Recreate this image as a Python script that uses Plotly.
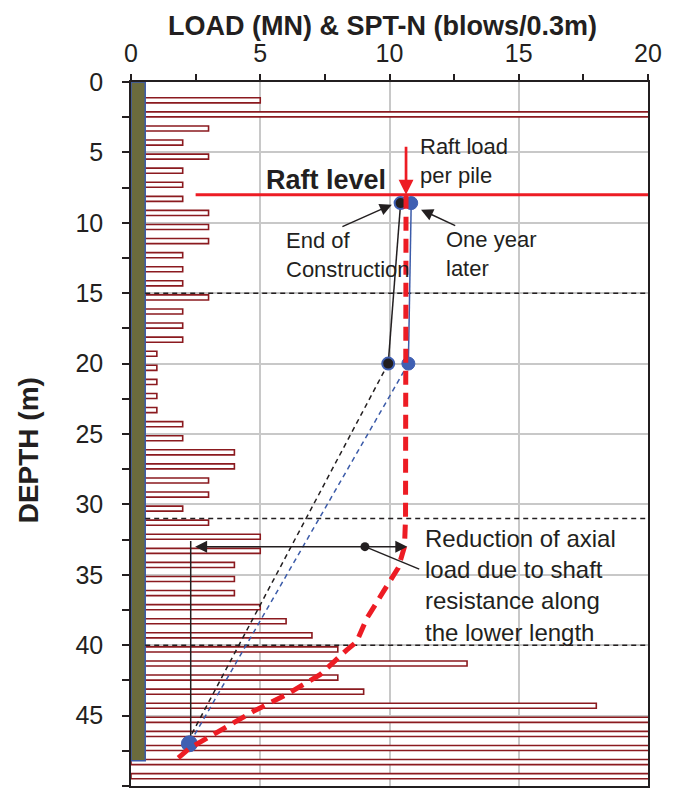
import plotly.graph_objects as go

# ---------------- data ----------------
# SPT-N profile (blows/0.3m); 50 = refusal (beyond axis)
SPT_DEPTH = [1.3, 2.3, 3.3, 4.3, 5.3, 6.3, 7.3, 8.3, 9.3, 10.3,
             11.3, 12.3, 13.3, 14.3, 15.3, 16.3, 17.3, 18.3, 19.3, 20.3,
             21.3, 22.3, 23.3, 24.3, 25.3, 26.3, 27.3, 28.3, 29.3, 30.3,
             31.3, 32.3, 33.3, 34.3, 35.3, 36.3, 37.3, 38.3, 39.3, 40.3,
             41.3, 42.3, 43.3, 44.3, 45.3, 46.3, 47.3, 48.3, 49.3]
SPT_N = [5, 50, 3, 2, 3, 2, 2, 2, 3, 3,
         3, 2, 2, 2, 3, 2, 2, 2, 1, 1,
         1, 1, 1, 2, 2, 4, 4, 3, 3, 2,
         3, 5, 5, 4, 4, 4, 5, 6, 7, 8,
         13, 8, 9, 18, 50, 50, 50, 50, 50]

# measured pile loads (MN)
EOC_DEPTH = [8.6, 20.0, 47.0]          # end of construction
EOC_LOAD = [10.43, 9.95, 2.15]
ONE_YEAR_DEPTH = [8.6, 20.0, 47.0]     # one year later
ONE_YEAR_LOAD = [10.84, 10.73, 2.26]

# interpreted axial load distribution (red dashed)
AXIAL_DEPTH = [8.0, 20.0, 31.0, 33.0, 34.5, 36.2, 38.1, 39.75, 40.35, 42.1, 43.5, 44.7, 46.1, 47.3, 48.0]
AXIAL_LOAD = [10.64, 10.64, 10.62, 10.58, 10.34, 9.76, 9.12, 8.73, 8.34, 7.31, 6.02, 4.73, 3.44, 2.28, 1.83]

# raft / layers / pile
RAFT_DEPTH = 8.0
RAFT_LINE_X = [2.5, 20.0]
RAFT_LOAD_PER_PILE = 10.64
RAFT_ARROW_FROM = 4.5
LAYER_DEPTHS = [15.0, 31.0, 40.0]
LAYER_X = [0.55, 20.0]
PILE_WIDTH = 0.55
PILE_TIP = 48.2

# reduction-of-load annotation
RED_ANN_DEPTH = 33.0
RED_ANN_LEFT = 2.48
RED_ANN_RIGHT = 10.69
RED_ANN_DOT = 9.05
RED_ANN_POINTER = (11.15, 34.6)
GUIDE_X = 2.31
GUIDE_DEPTH = [32.6, 47.3]

X_TICKS = [0, 5, 10, 15, 20]
Y_TICKS = [0, 5, 10, 15, 20, 25, 30, 35, 40, 45, 50]

# ---------------- styles ----------------
FONT = "Liberation Sans, Arial, sans-serif"
INK = "#231f20"
RED = "#ed1c24"
BLUE = "#3b5ba9"
DOT_BLUE = "#3f5fb2"
DARK_RED = "#8b1a1f"
OLIVE = "#6b6b3d"
GRID = "#c8c8c8"

fig = go.Figure()

# SPT bars
fig.add_trace(go.Bar(x=SPT_N, y=SPT_DEPTH, orientation="h", width=0.36,
                     marker=dict(color="white", line=dict(color=DARK_RED, width=1.6)),
                     hoverinfo="skip", showlegend=False))

# pile
fig.add_trace(go.Scatter(x=[0, PILE_WIDTH, PILE_WIDTH, 0, 0],
                         y=[0, 0, PILE_TIP, PILE_TIP, 0],
                         mode="lines", fill="toself", fillcolor=OLIVE,
                         line=dict(color=BLUE, width=1.5), showlegend=False, hoverinfo="skip"))

# layer boundaries
for d in LAYER_DEPTHS:
    fig.add_trace(go.Scatter(x=LAYER_X, y=[d, d], mode="lines",
                             line=dict(color=INK, width=1.5, dash="5px,4px"),
                             showlegend=False, hoverinfo="skip"))

# raft level
fig.add_trace(go.Scatter(x=RAFT_LINE_X, y=[RAFT_DEPTH, RAFT_DEPTH], mode="lines",
                         line=dict(color=RED, width=3), showlegend=False, hoverinfo="skip"))

# guide vertical line
fig.add_trace(go.Scatter(x=[GUIDE_X, GUIDE_X], y=GUIDE_DEPTH, mode="lines",
                         line=dict(color=INK, width=1.5), showlegend=False, hoverinfo="skip"))

# end of construction lines
fig.add_trace(go.Scatter(x=EOC_LOAD[:2], y=EOC_DEPTH[:2], mode="lines",
                         line=dict(color=INK, width=1.5), showlegend=False, hoverinfo="skip"))
fig.add_trace(go.Scatter(x=EOC_LOAD[1:], y=EOC_DEPTH[1:], mode="lines",
                         line=dict(color=INK, width=1.5, dash="5px,4px"), showlegend=False, hoverinfo="skip"))
# one year later lines
fig.add_trace(go.Scatter(x=ONE_YEAR_LOAD[:2], y=ONE_YEAR_DEPTH[:2], mode="lines",
                         line=dict(color=BLUE, width=1.5), showlegend=False, hoverinfo="skip"))
fig.add_trace(go.Scatter(x=ONE_YEAR_LOAD[1:], y=ONE_YEAR_DEPTH[1:], mode="lines",
                         line=dict(color=BLUE, width=1.5, dash="5px,4px"), showlegend=False, hoverinfo="skip"))

# markers
fig.add_trace(go.Scatter(x=EOC_LOAD[:2], y=EOC_DEPTH[:2], mode="markers",
                         marker=dict(color=INK, size=12, opacity=1, line=dict(color=DOT_BLUE, width=2)),
                         showlegend=False, hoverinfo="skip"))
fig.add_trace(go.Scatter(x=ONE_YEAR_LOAD, y=ONE_YEAR_DEPTH, mode="markers",
                         marker=dict(color=DOT_BLUE, size=[13, 13, 16], opacity=1,
                                     line=dict(color=DOT_BLUE, width=1)),
                         showlegend=False, hoverinfo="skip"))

# reduction annotation line pieces
fig.add_trace(go.Scatter(x=[RED_ANN_DOT, RED_ANN_POINTER[0]], y=[RED_ANN_DEPTH, RED_ANN_POINTER[1]],
                         mode="lines", line=dict(color=INK, width=1.5), showlegend=False, hoverinfo="skip"))

# axial load (red dashed)
fig.add_trace(go.Scatter(x=AXIAL_LOAD, y=AXIAL_DEPTH, mode="lines",
                         line=dict(color=RED, width=5, dash="14px,8px"),
                         showlegend=False, hoverinfo="skip"))

fig.add_trace(go.Scatter(x=[RED_ANN_DOT], y=[RED_ANN_DEPTH], mode="markers",
                         marker=dict(color=INK, size=9, opacity=1), showlegend=False, hoverinfo="skip"))

anns = []
# arrows (data coords)
def arrow(x, y, ax, ay, color=INK, width=1.5, size=1.6):
    return dict(x=x, y=y, ax=ax, ay=ay, xref="x", yref="y", axref="x", ayref="y",
                text="", showarrow=True, arrowhead=2, arrowsize=size, arrowwidth=width,
                arrowcolor=color, standoff=0, startstandoff=0)

anns.append(arrow(RED_ANN_LEFT, RED_ANN_DEPTH, RED_ANN_DOT, RED_ANN_DEPTH))
anns.append(arrow(RED_ANN_RIGHT, RED_ANN_DEPTH, RED_ANN_DOT, RED_ANN_DEPTH))
anns.append(arrow(RAFT_LOAD_PER_PILE, RAFT_DEPTH, RAFT_LOAD_PER_PILE, RAFT_ARROW_FROM, color=RED, width=2.7, size=1.1))
anns.append(arrow(10.09, 8.71, 8.12, 10.32))
anns.append(arrow(11.22, 9.07, 12.6, 10.25))

def label(x, y, text, size, xanchor="left", bold=False):
    return dict(x=x, y=y, xref="x", yref="y", text=(f"<b>{text}</b>" if bold else text),
                showarrow=False, xanchor=xanchor, yanchor="middle", align="left",
                font=dict(family=FONT, size=size, color=INK))

anns.append(label(9.93, 6.94, "Raft level", 27, xanchor="right", bold=True))
anns.append(label(11.1, 5.58, "Raft load<br>per pile", 22))
anns.append(label(5.93, 12.27, "End of<br>Construction", 22))
anns.append(label(12.12, 12.25, "One year<br>later", 22))
anns.append(label(11.31, 35.73, "Reduction of axial<br>load due to shaft<br>resistance along<br>the lower length", 24))

# axis titles
anns.append(dict(x=0.487, y=1.0797, xref="paper", yref="paper", showarrow=False,
                 text="<b>LOAD (MN) & SPT-N (blows/0.3m)</b>", xanchor="center", yanchor="middle",
                 font=dict(family=FONT, size=27, color=INK)))
anns.append(dict(x=-0.199, y=0.477, xref="paper", yref="paper", showarrow=False,
                 text="<b>DEPTH (m)</b>", textangle=-90, xanchor="center", yanchor="middle",
                 font=dict(family=FONT, size=28, color=INK)))

fig.update_layout(
    width=676, height=799,
    margin=dict(l=131, r=28, t=82, b=11),
    paper_bgcolor="white", plot_bgcolor="white",
    showlegend=False,
    annotations=anns,
    xaxis=dict(range=[0, 20], side="top", tickvals=X_TICKS, ticks="outside", ticklen=6,
               tickwidth=1.5, tickcolor=INK, tickfont=dict(family=FONT, size=25, color=INK),
               showgrid=True, gridcolor=GRID, gridwidth=1.5, zeroline=False,
               showline=True, linecolor=INK, linewidth=1.5, mirror=True,
               minor=dict(dtick=2.5, ticks="outside", ticklen=6, tickwidth=1.5, tickcolor=INK, showgrid=False),
               ticklabelstandoff=2, fixedrange=True),
    yaxis=dict(range=[50, 0], tickvals=Y_TICKS, ticks="outside", ticklen=7,
               tickwidth=1.5, tickcolor=INK, tickfont=dict(family=FONT, size=25, color=INK),
               showgrid=True, gridcolor=GRID, gridwidth=1.5, zeroline=False,
               showline=True, linecolor=INK, linewidth=1.5, mirror=True,
               minor=dict(dtick=2.5, ticks="outside", ticklen=7, tickwidth=1.5, tickcolor=INK, showgrid=False),
               ticklabelstandoff=14, fixedrange=True),
)

fig.write_html("out.html")
